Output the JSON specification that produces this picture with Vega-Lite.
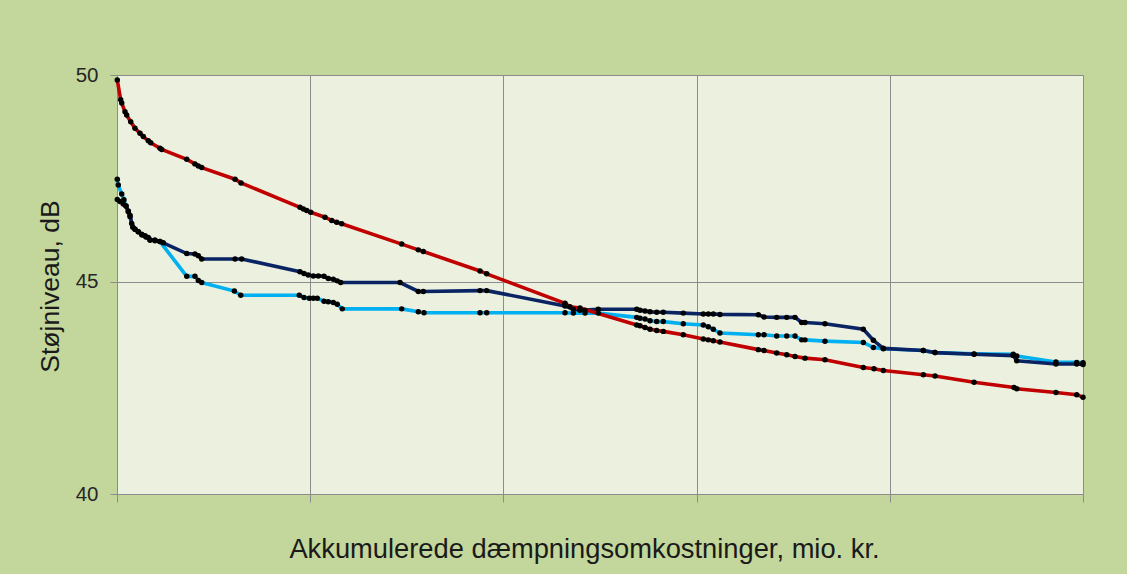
{
  "$schema": "https://vega.github.io/schema/vega-lite/v6.json",
  "width": 966,
  "height": 419,
  "autosize": "none",
  "padding": {"left": 117, "top": 75, "right": 44, "bottom": 80},
  "background": "#c3d69b",
  "config": {
    "view": {"fill": "#ebf1de", "stroke": null},
    "font": "Liberation Sans",
    "axis": {
      "gridColor": "#8c8c8c", "gridWidth": 1, "gridOpacity": 1,
      "tickColor": "#8c8c8c", "domainColor": "#8c8c8c", "domainWidth": 1,
      "labelFont": "Liberation Sans", "titleFont": "Liberation Sans",
      "labelColor": "#262626", "titleColor": "#1a1a1a",
      "titleFontWeight": "normal"
    }
  },
  "data": {"values": [
    {"s":"rød","x":0.03,"y":49.88},{"s":"rød","x":0.38,"y":49.40},{"s":"rød","x":0.49,"y":49.32},{"s":"rød","x":0.83,"y":49.11},{"s":"rød","x":1.00,"y":49.03},{"s":"rød","x":1.42,"y":48.87},{"s":"rød","x":1.86,"y":48.71},{"s":"rød","x":2.38,"y":48.59},{"s":"rød","x":2.72,"y":48.51},{"s":"rød","x":3.24,"y":48.41},{"s":"rød","x":3.49,"y":48.36},{"s":"rød","x":4.45,"y":48.23},{"s":"rød","x":4.63,"y":48.20},{"s":"rød","x":7.22,"y":47.96},{"s":"rød","x":8.07,"y":47.85},{"s":"rød","x":8.42,"y":47.80},{"s":"rød","x":8.77,"y":47.76},{"s":"rød","x":12.22,"y":47.48},{"s":"rød","x":12.84,"y":47.39},{"s":"rød","x":18.94,"y":46.80},{"s":"rød","x":19.29,"y":46.76},{"s":"rød","x":19.64,"y":46.72},{"s":"rød","x":20.05,"y":46.68},{"s":"rød","x":21.53,"y":46.56},{"s":"rød","x":22.23,"y":46.48},{"s":"rød","x":22.74,"y":46.44},{"s":"rød","x":23.26,"y":46.40},{"s":"rød","x":29.47,"y":45.91},{"s":"rød","x":31.19,"y":45.77},{"s":"rød","x":31.71,"y":45.73},{"s":"rød","x":37.58,"y":45.26},{"s":"rød","x":38.27,"y":45.19},{"s":"rød","x":46.38,"y":44.49},{"s":"rød","x":46.89,"y":44.41},{"s":"rød","x":47.93,"y":44.38},{"s":"rød","x":53.80,"y":43.98},{"s":"rød","x":54.14,"y":43.96},{"s":"rød","x":54.66,"y":43.92},{"s":"rød","x":55.18,"y":43.88},{"s":"rød","x":55.87,"y":43.85},{"s":"rød","x":56.55,"y":43.83},{"s":"rød","x":58.62,"y":43.75},{"s":"rød","x":60.69,"y":43.65},{"s":"rød","x":61.21,"y":43.63},{"s":"rød","x":61.73,"y":43.61},{"s":"rød","x":62.42,"y":43.58},{"s":"rød","x":66.39,"y":43.40},{"s":"rød","x":66.98,"y":43.38},{"s":"rød","x":68.29,"y":43.32},{"s":"rød","x":69.33,"y":43.28},{"s":"rød","x":70.19,"y":43.24},{"s":"rød","x":71.22,"y":43.20},{"s":"rød","x":73.29,"y":43.16},{"s":"rød","x":77.26,"y":42.98},{"s":"rød","x":78.36,"y":42.95},{"s":"rød","x":79.33,"y":42.91},{"s":"rød","x":83.47,"y":42.81},{"s":"rød","x":84.68,"y":42.78},{"s":"rød","x":88.72,"y":42.63},{"s":"rød","x":92.86,"y":42.51},{"s":"rød","x":93.14,"y":42.48},{"s":"rød","x":97.20,"y":42.39},{"s":"rød","x":99.35,"y":42.34},{"s":"rød","x":100,"y":42.28},
    {"s":"mørkeblå","x":0.03,"y":46.99},{"s":"mørkeblå","x":0.31,"y":46.94},{"s":"mørkeblå","x":0.65,"y":46.88},{"s":"mørkeblå","x":0.93,"y":46.83},{"s":"mørkeblå","x":1.17,"y":46.69},{"s":"mørkeblå","x":1.35,"y":46.61},{"s":"mørkeblå","x":1.52,"y":46.41},{"s":"mørkeblå","x":1.86,"y":46.27},{"s":"mørkeblå","x":2.20,"y":46.21},{"s":"mørkeblå","x":2.56,"y":46.15},{"s":"mørkeblå","x":2.90,"y":46.11},{"s":"mørkeblå","x":3.24,"y":46.07},{"s":"mørkeblå","x":3.42,"y":46.01},{"s":"mørkeblå","x":3.93,"y":45.99},{"s":"mørkeblå","x":4.45,"y":45.97},{"s":"mørkeblå","x":4.79,"y":45.94},{"s":"mørkeblå","x":7.22,"y":45.68},{"s":"mørkeblå","x":8.07,"y":45.67},{"s":"mørkeblå","x":8.42,"y":45.63},{"s":"mørkeblå","x":8.77,"y":45.55},{"s":"mørkeblå","x":12.22,"y":45.55},{"s":"mørkeblå","x":12.91,"y":45.55},{"s":"mørkeblå","x":18.94,"y":45.24},{"s":"mørkeblå","x":19.36,"y":45.20},{"s":"mørkeblå","x":19.80,"y":45.16},{"s":"mørkeblå","x":20.32,"y":45.14},{"s":"mørkeblå","x":20.84,"y":45.14},{"s":"mørkeblå","x":21.43,"y":45.13},{"s":"mørkeblå","x":21.87,"y":45.08},{"s":"mørkeblå","x":22.39,"y":45.06},{"s":"mørkeblå","x":22.80,"y":45.02},{"s":"mørkeblå","x":23.16,"y":44.98},{"s":"mørkeblå","x":29.30,"y":44.98},{"s":"mørkeblå","x":31.19,"y":44.77},{"s":"mørkeblå","x":31.71,"y":44.77},{"s":"mørkeblå","x":37.58,"y":44.79},{"s":"mørkeblå","x":38.27,"y":44.79},{"s":"mørkeblå","x":46.38,"y":44.43},{"s":"mørkeblå","x":47.24,"y":44.35},{"s":"mørkeblå","x":47.93,"y":44.33},{"s":"mørkeblå","x":48.45,"y":44.33},{"s":"mørkeblå","x":49.82,"y":44.35},{"s":"mørkeblå","x":53.80,"y":44.35},{"s":"mørkeblå","x":54.14,"y":44.33},{"s":"mørkeblå","x":54.66,"y":44.31},{"s":"mørkeblå","x":55.18,"y":44.29},{"s":"mørkeblå","x":55.87,"y":44.28},{"s":"mørkeblå","x":56.55,"y":44.28},{"s":"mørkeblå","x":58.62,"y":44.26},{"s":"mørkeblå","x":60.69,"y":44.24},{"s":"mørkeblå","x":61.21,"y":44.24},{"s":"mørkeblå","x":61.73,"y":44.24},{"s":"mørkeblå","x":62.42,"y":44.23},{"s":"mørkeblå","x":66.39,"y":44.22},{"s":"mørkeblå","x":66.98,"y":44.17},{"s":"mørkeblå","x":68.29,"y":44.16},{"s":"mørkeblå","x":69.33,"y":44.16},{"s":"mørkeblå","x":70.19,"y":44.16},{"s":"mørkeblå","x":70.88,"y":44.04},{"s":"mørkeblå","x":71.22,"y":44.04},{"s":"mørkeblå","x":73.29,"y":44.01},{"s":"mørkeblå","x":77.26,"y":43.88},{"s":"mørkeblå","x":78.30,"y":43.62},{"s":"mørkeblå","x":79.33,"y":43.43},{"s":"mørkeblå","x":83.47,"y":43.38},{"s":"mørkeblå","x":84.68,"y":43.33},{"s":"mørkeblå","x":88.72,"y":43.29},{"s":"mørkeblå","x":92.78,"y":43.26},{"s":"mørkeblå","x":93.14,"y":43.14},{"s":"mørkeblå","x":97.20,"y":43.06},{"s":"mørkeblå","x":99.35,"y":43.06},{"s":"mørkeblå","x":100,"y":43.05},
    {"s":"lyseblå","x":0.03,"y":47.48},{"s":"lyseblå","x":0.13,"y":47.34},{"s":"lyseblå","x":0.49,"y":47.12},{"s":"lyseblå","x":0.72,"y":46.98},{"s":"lyseblå","x":0.93,"y":46.83},{"s":"lyseblå","x":1.17,"y":46.71},{"s":"lyseblå","x":1.35,"y":46.57},{"s":"lyseblå","x":1.63,"y":46.32},{"s":"lyseblå","x":1.86,"y":46.27},{"s":"lyseblå","x":2.20,"y":46.21},{"s":"lyseblå","x":2.59,"y":46.13},{"s":"lyseblå","x":3.00,"y":46.08},{"s":"lyseblå","x":3.42,"y":46.01},{"s":"lyseblå","x":3.93,"y":46.01},{"s":"lyseblå","x":4.45,"y":45.97},{"s":"lyseblå","x":7.22,"y":45.13},{"s":"lyseblå","x":8.07,"y":45.13},{"s":"lyseblå","x":8.42,"y":45.03},{"s":"lyseblå","x":8.77,"y":44.98},{"s":"lyseblå","x":12.15,"y":44.78},{"s":"lyseblå","x":12.81,"y":44.68},{"s":"lyseblå","x":18.87,"y":44.68},{"s":"lyseblå","x":19.36,"y":44.63},{"s":"lyseblå","x":19.91,"y":44.61},{"s":"lyseblå","x":20.32,"y":44.61},{"s":"lyseblå","x":20.73,"y":44.61},{"s":"lyseblå","x":21.43,"y":44.54},{"s":"lyseblå","x":21.87,"y":44.53},{"s":"lyseblå","x":22.39,"y":44.51},{"s":"lyseblå","x":22.80,"y":44.47},{"s":"lyseblå","x":23.32,"y":44.36},{"s":"lyseblå","x":29.47,"y":44.36},{"s":"lyseblå","x":31.19,"y":44.29},{"s":"lyseblå","x":31.78,"y":44.27},{"s":"lyseblå","x":37.58,"y":44.27},{"s":"lyseblå","x":38.27,"y":44.27},{"s":"lyseblå","x":46.38,"y":44.27},{"s":"lyseblå","x":47.24,"y":44.26},{"s":"lyseblå","x":48.45,"y":44.26},{"s":"lyseblå","x":49.82,"y":44.26},{"s":"lyseblå","x":53.80,"y":44.16},{"s":"lyseblå","x":54.14,"y":44.14},{"s":"lyseblå","x":54.66,"y":44.12},{"s":"lyseblå","x":55.18,"y":44.08},{"s":"lyseblå","x":55.87,"y":44.06},{"s":"lyseblå","x":56.55,"y":44.06},{"s":"lyseblå","x":58.62,"y":44.01},{"s":"lyseblå","x":60.69,"y":43.98},{"s":"lyseblå","x":61.21,"y":43.94},{"s":"lyseblå","x":61.73,"y":43.88},{"s":"lyseblå","x":62.42,"y":43.79},{"s":"lyseblå","x":66.39,"y":43.75},{"s":"lyseblå","x":66.98,"y":43.75},{"s":"lyseblå","x":68.29,"y":43.72},{"s":"lyseblå","x":69.33,"y":43.72},{"s":"lyseblå","x":70.19,"y":43.72},{"s":"lyseblå","x":70.88,"y":43.63},{"s":"lyseblå","x":71.22,"y":43.63},{"s":"lyseblå","x":73.29,"y":43.60},{"s":"lyseblå","x":77.26,"y":43.57},{"s":"lyseblå","x":78.30,"y":43.45},{"s":"lyseblå","x":79.33,"y":43.42},{"s":"lyseblå","x":83.47,"y":43.38},{"s":"lyseblå","x":84.68,"y":43.33},{"s":"lyseblå","x":88.72,"y":43.30},{"s":"lyseblå","x":92.78,"y":43.29},{"s":"lyseblå","x":93.14,"y":43.25},{"s":"lyseblå","x":97.20,"y":43.11},{"s":"lyseblå","x":99.35,"y":43.10},{"s":"lyseblå","x":100,"y":43.09}
  ]},
  "encoding": {
    "x": {
      "field": "x", "type": "quantitative",
      "scale": {"domain": [0, 100], "nice": false, "zero": false},
      "axis": {
        "values": [0, 20, 40, 60, 80, 100], "labels": false, "grid": true,
        "tickSize": 8, "domain": true,
        "title": "Akkumulerede dæmpningsomkostninger,  mio. kr.",
        "titleFontSize": 27.3, "titleAlign": "center", "titleBaseline": "alphabetic",
        "titleX": 467, "titleY": 63
      }
    },
    "y": {
      "field": "y", "type": "quantitative",
      "scale": {"domain": [40, 45, 50], "range": [419, 206.7, 0], "nice": false, "zero": false},
      "axis": {
        "values": [40, 45, 50], "grid": true, "tickSize": 7, "labelPadding": 12,
        "labelFontSize": 20.5, "domain": true,
        "title": "Støjniveau, dB",
        "titleFontSize": 26.5, "titleAngle": -90, "titleAlign": "center", "titleBaseline": "alphabetic",
        "titleX": -59, "titleY": 211
      }
    }
  },
  "layer": [
    {
      "transform": [{"filter": "datum.s === 'lyseblå'"}],
      "mark": {"type": "line", "color": "#00b0f0", "strokeWidth": 3.6, "clip": false}
    },
    {
      "transform": [{"filter": "datum.s === 'mørkeblå'"}],
      "mark": {"type": "line", "color": "#0a2463", "strokeWidth": 3.6, "clip": false}
    },
    {
      "transform": [{"filter": "datum.s === 'rød'"}],
      "mark": {"type": "line", "color": "#c00000", "strokeWidth": 3.6, "clip": false}
    },
    {
      "mark": {"type": "circle", "color": "#000000", "size": 30, "opacity": 1}
    }
  ]
}
